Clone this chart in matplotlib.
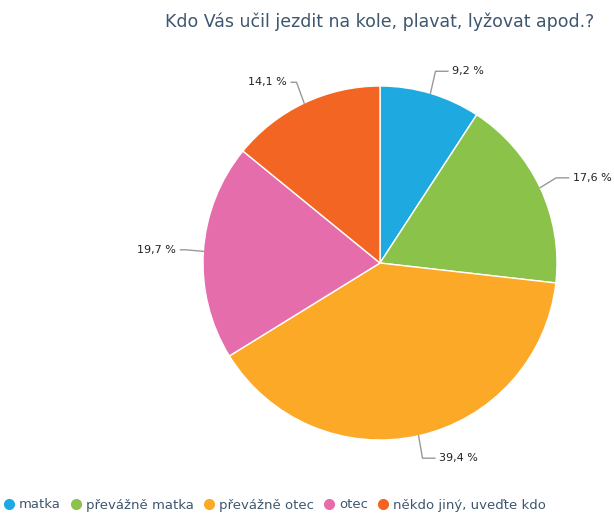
import numpy as np
import matplotlib.pyplot as plt
from matplotlib.lines import Line2D

# Data
labels = ['matka', 'převážně matka', 'převážně otec', 'otec', 'někdo jiný, uveďte kdo']
values = [9.2, 17.6, 39.4, 19.7, 14.1]
colors = ['#1FA9E1', '#8BC34A', '#FBA926', '#E66DAB', '#F26522']
title = 'Kdo Vás učil jezdit na kole, plavat, lyžovat apod.?'

W, H = 614, 513
fig = plt.figure(figsize=(W / 100, H / 100), dpi=100)

# pie centre and radius in pixels
cx, cy, r = 380, 263, 177
ax = fig.add_axes([(cx - r) / W, (H - cy - r) / H, 2 * r / W, 2 * r / H])
ax.axis('off')

wedges, _ = ax.pie(values, colors=colors, startangle=90, counterclock=False,
                   radius=1, wedgeprops=dict(edgecolor='white', linewidth=1))
ax.set_xlim(-1, 1)
ax.set_ylim(-1, 1)

# labels with connectors
for w, v in zip(wedges, values):
    a = np.deg2rad((w.theta1 + w.theta2) / 2)
    ca, sa = np.cos(a), np.sin(a)
    side = 1 if ca >= 0 else -1
    x0, y0 = ca * 1.0, sa * 1.0
    x1 = ca * 1.1
    yl = sa * 1.13
    x2 = x1 + side * (0.07 if side > 0 else 0.03)
    ax.plot([x0, x1, x2], [y0, yl, yl], color='#999999', lw=1,
            clip_on=False, solid_joinstyle='round')
    txt = ('%.1f %%' % v).replace('.', ',')
    ax.text(x2 + side * 0.025, yl, txt, ha='left' if side > 0 else 'right',
            va='center', fontsize=8, color='#222222', clip_on=False)

fig.text(cx / W, 1 - 22 / H, title, ha='center', va='center',
         fontsize=12.5, color='#3E576F')

handles = [Line2D([], [], marker='o', linestyle='', markersize=7,
                  markerfacecolor=c, markeredgecolor=c) for c in colors]
fig.legend(handles, labels, loc='center left', bbox_to_anchor=(0.004, 1 - 505 / H),
           ncol=5, frameon=False, fontsize=9.5, labelcolor='#3E576F',
           handletextpad=0.25, columnspacing=0.65, handlelength=1.0,
           borderaxespad=0, borderpad=0)

fig.savefig('out.png', dpi=100)
